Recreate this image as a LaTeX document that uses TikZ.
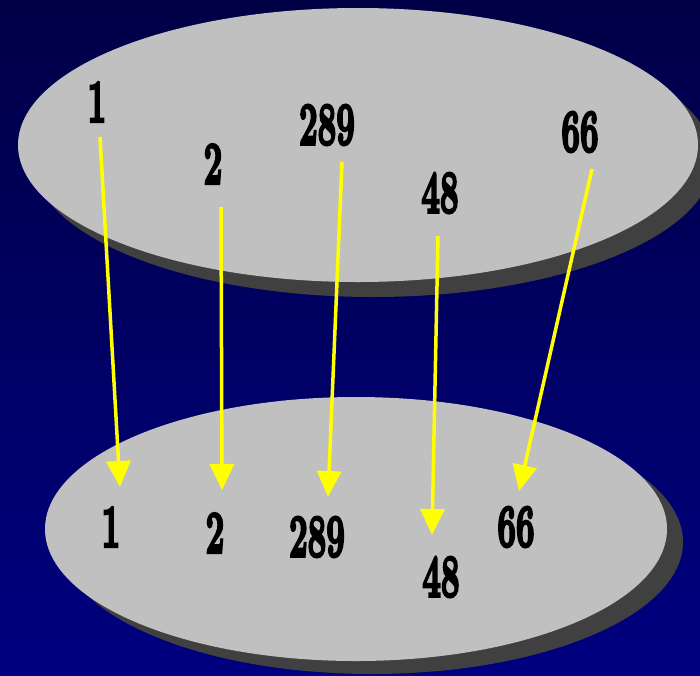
\documentclass[tikz,border=0pt]{standalone}
\usepackage{graphicx}
\usepackage{fontspec}
\newfontfamily\numfont[FakeBold=5]{Latin Modern Roman}
\usetikzlibrary{arrows.meta}
\definecolor{bgtop}{RGB}{0,0,70}
\definecolor{bgbot}{RGB}{0,0,128}
\definecolor{plate}{RGB}{192,192,192}
\definecolor{shadowc}{RGB}{64,64,64}
\definecolor{arrowc}{RGB}{255,255,0}
\tikzset{
  num/.style={inner sep=0pt, font=\numfont\fontsize{60}{60}\selectfont\bfseries},
  maparrow/.style={draw=arrowc, line width=3.5pt,
    -{Triangle[length=26pt,width=24pt,fill=arrowc]}}
}
\newcommand{\nm}[1]{\scalebox{0.55}[1]{#1}}
\begin{document}
\begin{tikzpicture}[x=1pt,y=-1pt]
\useasboundingbox (0,0) rectangle (700,675);
\shade[top color=bgtop, bottom color=bgbot] (0,0) rectangle (700,675);
% top plate
\fill[shadowc] (373,160) ellipse [x radius=340, y radius=137];
\fill[plate] (358,145) ellipse [x radius=340, y radius=137];
% bottom plate
\fill[shadowc] (372,542) ellipse [x radius=311, y radius=132];
\fill[plate] (356,529) ellipse [x radius=311, y radius=132];
% top labels
\node[num] (t1) at (97,102) {\nm{1}};
\node[num] (t2) at (213,164) {\nm{2}};
\node[num] (t289) at (327,125) {\nm{289}};
\node[num] (t48) at (440,193) {\nm{48}};
\node[num] (t66) at (580,132) {\nm{66}};
% bottom labels
\node[num] (b1) at (111,527) {\nm{1}};
\node[num] (b2) at (215,533) {\nm{2}};
\node[num] (b289) at (317,537) {\nm{289}};
\node[num] (b48) at (441,577) {\nm{48}};
\node[num] (b66) at (516,527) {\nm{66}};
% arrow ends
\coordinate (s1) at (100,137);   \coordinate (e1) at (120,487);
\coordinate (s2) at (221,207);   \coordinate (e2) at (222,490);
\coordinate (s289) at (342,162); \coordinate (e289) at (328,497);
\coordinate (s48) at (438,236);  \coordinate (e48) at (432,535);
\coordinate (s66) at (592,169);  \coordinate (e66) at (519,491);
\draw[maparrow] (s1) -- (e1);
\draw[maparrow] (s2) -- (e2);
\draw[maparrow] (s289) -- (e289);
\draw[maparrow] (s48) -- (e48);
\draw[maparrow] (s66) -- (e66);
\end{tikzpicture}
\end{document}
